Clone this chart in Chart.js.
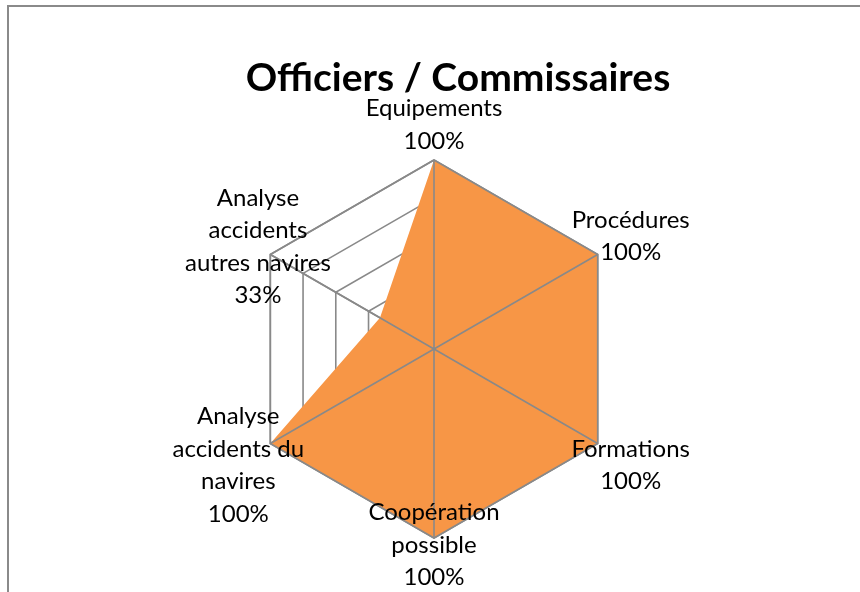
<!DOCTYPE html>
<html>
<head>
<meta charset="utf-8">
<script src="https://cdn.jsdelivr.net/npm/chart.js@4"></script>
<style>
  html, body { margin: 0; padding: 0; background: #fff; overflow: hidden; }
  #wrap { position: relative; width: 860px; height: 592px; }
  #frame { position: absolute; left: 7px; top: 5px; width: 1000px; height: 800px; border: 2px solid #8a8a8a; box-sizing: border-box; }
  #myChart { position: absolute; left: 0; top: 0; }
</style>
</head>
<body>
<div id="wrap">
  <div id="frame"></div>
  <canvas id="myChart" width="860" height="592"></canvas>
</div>
<script>
// donnees du graphique
const titre = 'Officiers / Commissaires'
const categories = [
    ['Equipements'],
    ['Procédures'],
    ['Formations'],
    ['Coopération', 'possible'],
    ['Analyse', 'accidents du', 'navires'],
    ['Analyse', 'accidents', 'autres navires']
]
const valeurs = [1, 1, 1, 1, 1, 0.33]
const ticks = [0, 0.2, 0.4, 0.6, 0.8, 1]

// decalage des etiquettes par rapport au point (px)
const decalages = [[0, -35], [33, -18], [33, 22], [0, 7], [-32, 22], [-122, -71]]

const police = 'Lato, "Open Sans", sans-serif'
const gris = '#898989'

// axes + contour exterieur par-dessus la surface
const axesDessus = {
    id: 'axesDessus',
    afterDatasetsDraw(chart) {
        const ctx = chart.ctx
        const r = chart.scales.r
        const n = chart.data.labels.length
        const rayon = r.getDistanceFromCenterForValue(r.max)
        ctx.save()
        ctx.strokeStyle = gris
        ctx.lineWidth = 1.6
        ctx.beginPath()
        for (let i = 0; i < n; i++) {
            const p = r.getPointPosition(i, rayon)
            ctx.moveTo(r.xCenter, r.yCenter)
            ctx.lineTo(p.x, p.y)
        }
        ctx.stroke()
        ctx.beginPath()
        for (let i = 0; i <= n; i++) {
            const p = r.getPointPosition(i % n, rayon)
            if (i === 0) ctx.moveTo(p.x, p.y)
            else ctx.lineTo(p.x, p.y)
        }
        ctx.stroke()
        ctx.restore()
    }
}

// titre + etiquettes de donnees
const etiquettes = {
    id: 'etiquettes',
    afterDraw(chart) {
        const ctx = chart.ctx
        const meta = chart.getDatasetMeta(0)
        ctx.save()
        ctx.fillStyle = '#000'
        ctx.textAlign = 'center'
        ctx.textBaseline = 'alphabetic'
        ctx.font = 'bold 39px ' + police
        ctx.fillText(titre, 458, 91)

        ctx.font = '24px ' + police
        ctx.textBaseline = 'middle'
        const lh = 32.5
        meta.data.forEach((pt, i) => {
            const lignes = categories[i].concat([Math.round(valeurs[i] * 100) + '%'])
            const cx = pt.x + decalages[i][0]
            const cy = pt.y + decalages[i][1]
            lignes.forEach((l, j) => {
                ctx.fillText(l, cx, cy + (j - (lignes.length - 1) / 2) * lh)
            })
        })
        ctx.restore()
    }
}

let ctx = document.getElementById('myChart').getContext('2d')
let myChart = new Chart(ctx, {
    type: 'radar',
    data: {
        labels: categories,
        datasets: [{
            label: titre,
            data: valeurs,
            backgroundColor: '#F79646',
            borderWidth: 0,
            pointRadius: 0,
            fill: true
        }]
    },
    options: {
        responsive: false,
        animation: false,
        layout: {
            padding: { left: 245, right: 237, top: 160, bottom: 54 }
        },
        scales: {
            r: {
                min: 0,
                max: 1,
                afterBuildTicks: (axis) => { axis.ticks = ticks.map(v => ({ value: v })) },
                ticks: { display: false },
                pointLabels: { display: false },
                grid: { color: gris, lineWidth: 1.6 },
                angleLines: { color: gris, lineWidth: 1.6 }
            }
        },
        plugins: {
            legend: { display: false },
            title: { display: false },
            tooltip: { enabled: false }
        }
    },
    plugins: [axesDessus, etiquettes]
})
</script>
</body>
</html>
